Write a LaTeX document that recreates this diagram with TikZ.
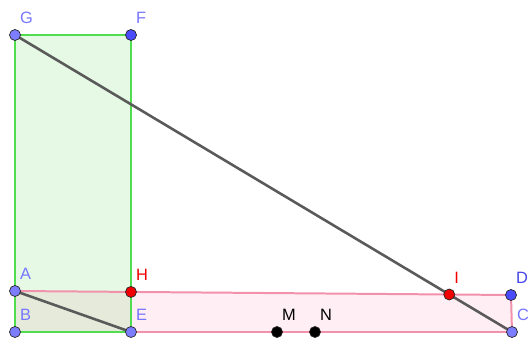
\documentclass[tikz,border=0pt]{standalone}
\usepackage{fontspec}
\setmainfont{Liberation Sans}
\usetikzlibrary{calc}

\definecolor{grnline}{RGB}{80,222,80}
\definecolor{grnfill}{RGB}{0,200,0}
\definecolor{pnkline}{RGB}{242,145,172}
\definecolor{pnkfill}{RGB}{255,40,100}
\definecolor{segline}{RGB}{90,90,90}
\definecolor{ptlight}{RGB}{125,125,255}
\definecolor{ptdark}{RGB}{75,75,255}
\definecolor{lablight}{RGB}{118,118,255}
\definecolor{labdark}{RGB}{70,70,235}
\definecolor{ptred}{RGB}{240,0,0}

\begin{document}
\begin{tikzpicture}[x=0.03cm, y=0.03cm,
        pt/.style={circle, draw=black!85, line width=0.6pt, inner sep=0pt, minimum size=9.4pt},
        lab/.style={anchor=base west, inner sep=0pt, font=\fontsize{14}{16}\selectfont},
        grnedge/.style={draw=grnline, line width=2.5pt},
        pnkedge/.style={draw=pnkline, line width=1.7pt},
        seg/.style={draw=segline, line width=2.2pt}
    ]
    \useasboundingbox (0,0) rectangle (528,338);

    % corners
    \coordinate (A) at (15,47);
    \coordinate (B) at (15,6);
    \coordinate (C) at (512,6);
    \coordinate (D) at (511,43);
    \coordinate (E) at (131,6);
    \coordinate (F) at (131,303);
    \coordinate (G) at (15,303);
    \coordinate (M) at (277,6);
    \coordinate (N) at (315,6);
    \coordinate (H) at (intersection of A--D and E--F);
    \coordinate (I) at (intersection of A--D and G--C);

    % areas
    \fill[pnkfill, fill opacity=0.08] (A) -- (B) -- (C) -- (D) -- cycle;
    \fill[grnfill, fill opacity=0.1] (B) -- (E) -- (F) -- (G) -- cycle;

    % sides
    \draw[pnkedge] (A) -- (D);
    \draw[pnkedge] (D) -- (C);
    \draw[pnkedge] (C) -- (B);
    \draw[grnedge] (B) -- (E);
    \draw[grnedge] (E) -- (F);
    \draw[grnedge] (F) -- (G);
    \draw[grnedge] (G) -- (B);

    \draw[seg] (G) -- (C);
    \draw[seg] (A) -- (E);

    % points
    \foreach \p/\c in {A/ptlight, B/ptlight, C/ptlight, E/ptlight, G/ptlight, D/ptdark, F/ptdark, H/ptred, I/ptred, M/black, N/black}
        \node[pt, fill=\c] (\p-pt) at (\p) {};

    % labels
    \foreach \p/\c in {A/lablight, B/lablight, C/lablight, E/lablight, G/lablight, F/lablight, D/labdark, H/ptred, I/ptred, M/black, N/black}
        \node[lab, text=\c] (\p-lab) at ($(\p)+(5,11)$) {\p};
\end{tikzpicture}
\end{document}
